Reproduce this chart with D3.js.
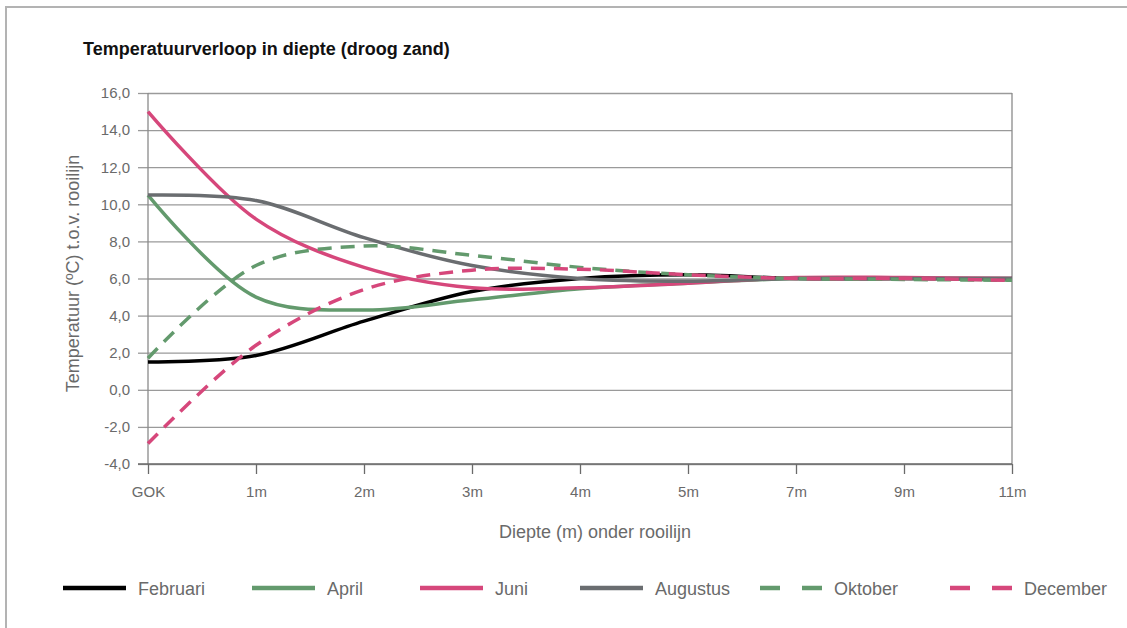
<!DOCTYPE html>
<html>
<head>
<meta charset="utf-8">
<script src="https://cdn.jsdelivr.net/npm/d3@7"></script>
<style>
  body { margin: 0; background: #fff; }
  svg { display: block; font-family: "Liberation Sans Narrow", "Arial Narrow", "Liberation Sans", sans-serif; }
</style>
</head>
<body>
<svg id="chart" width="1127" height="628"></svg>
<script>
// categories along the x axis
const depths = ["GOK", "1m", "2m", "3m", "4m", "5m", "7m", "9m", "11m"];
const yTicks = [-4, -2, 0, 2, 4, 6, 8, 10, 12, 14, 16];

// temperature per month
const februari  = [1.5, 1.85, 3.7, 5.3, 6.0, 6.2, 6.0, 6.0, 6.0];
const april     = [10.5, 5.0, 4.3, 4.85, 5.45, 5.75, 6.0, 6.0, 5.9];
const juni      = [15.0, 9.2, 6.6, 5.5, 5.5, 5.75, 6.05, 6.05, 6.0];
const augustus  = [10.5, 10.2, 8.2, 6.7, 6.0, 5.85, 6.0, 6.0, 6.0];
const oktober   = [1.7, 6.7, 7.75, 7.25, 6.6, 6.2, 6.0, 5.95, 5.9];
const december  = [-2.9, 2.4, 5.4, 6.45, 6.5, 6.2, 6.0, 6.0, 5.9];

const series = [
  { name: "Februari",  values: februari, color: "#000000", dashed: false },
  { name: "April",     values: april,    color: "#639a6d", dashed: false },
  { name: "Juni",      values: juni,     color: "#d6477b", dashed: false },
  { name: "Augustus",  values: augustus, color: "#6a6d70", dashed: false },
  { name: "Oktober",   values: oktober,  color: "#639a6d", dashed: true },
  { name: "December",  values: december, color: "#d6477b", dashed: true },
];

function drawChart() {
  const svg = d3.select("#chart");
  const left = 148, right = 1012, top = 93, bottom = 464;

  // outer frame (only top and left show)
  svg.append("path")
    .attr("d", "M6,640 L6,7 L1140,7")
    .attr("fill", "none")
    .attr("stroke", "#b3b3b3")
    .attr("stroke-width", 2);

  svg.append("text")
    .attr("x", 83).attr("y", 55)
    .attr("font-size", 18).attr("font-weight", "bold")
    .attr("fill", "#111")
    .text("Temperatuurverloop in diepte (droog zand)");

  const x = d3.scalePoint().domain(depths).range([left, right]);
  const y = d3.scaleLinear().domain([-4, 16]).range([bottom, top]);

  // horizontal gridlines + y axis
  const yAxis = d3.axisLeft(y)
    .tickValues(yTicks)
    .tickSize(10)
    .tickFormat(d => d.toFixed(1).replace(".", ","));
  const gy = svg.append("g").attr("transform", `translate(${left},0)`).call(yAxis);
  gy.select(".domain").remove();
  gy.selectAll(".tick line").attr("stroke", "#9a9a9a").attr("stroke-width", 1.3);
  gy.selectAll(".tick text").attr("x", -18).attr("font-size", 15).attr("fill", "#6a6a6a").attr("font-family", null);
  gy.selectAll(".tick").append("line")
    .attr("x1", 0).attr("x2", right - left)
    .attr("stroke", "#9a9a9a").attr("stroke-width", 1.3);

  // vertical frame lines of the plot
  svg.append("line").attr("x1", left).attr("x2", left).attr("y1", top).attr("y2", bottom)
    .attr("stroke", "#8a8a8a").attr("stroke-width", 1.3);
  svg.append("line").attr("x1", right).attr("x2", right).attr("y1", top).attr("y2", bottom)
    .attr("stroke", "#8a8a8a").attr("stroke-width", 1.3);

  // x axis
  const gx = svg.append("g").attr("transform", `translate(0,${bottom})`)
    .call(d3.axisBottom(x).tickSize(10).tickPadding(12));
  gx.select(".domain").attr("d", `M${left - 10},0H${right}`).attr("stroke", "#6a6a6a").attr("stroke-width", 1.3);
  gx.selectAll(".tick line").attr("stroke", "#6a6a6a").attr("stroke-width", 1.3);
  gx.selectAll(".tick text").attr("font-size", 15).attr("fill", "#6a6a6a").attr("font-family", null);

  // axis titles
  svg.append("text")
    .attr("x", (left + right) / 2 + 15).attr("y", 538)
    .attr("text-anchor", "middle")
    .attr("font-size", 18).attr("fill", "#6a6a6a")
    .text("Diepte (m) onder rooilijn");
  svg.append("text")
    .attr("transform", `translate(79,${(top + bottom) / 2 - 5}) rotate(-90)`)
    .attr("text-anchor", "middle")
    .attr("font-size", 18).attr("fill", "#6a6a6a")
    .text("Temperatuur (ºC) t.o.v. rooilijn");

  // lines
  const line = d3.line()
    .x((d, i) => x(depths[i]))
    .y(d => y(d))
    .curve(d3.curveCatmullRom.alpha(0.5));

  svg.append("g").selectAll("path")
    .data(series)
    .enter()
    .append("path")
    .attr("d", s => line(s.values))
    .attr("fill", "none")
    .attr("stroke", s => s.color)
    .attr("stroke-width", 3.5)
    .attr("stroke-dasharray", s => s.dashed ? "14,9" : null);

  // legend
  const legendX = [63, 252, 420, 580, 760, 950];
  const legend = svg.append("g").selectAll("g")
    .data(series)
    .enter()
    .append("g")
    .attr("transform", (s, i) => `translate(${legendX[i]},588)`);
  legend.append("line")
    .attr("x1", 0).attr("x2", 63)
    .attr("stroke", s => s.color)
    .attr("stroke-width", 4.5)
    .attr("stroke-dasharray", s => s.dashed ? "20,22" : null);
  legend.append("text")
    .attr("x", s => s.dashed ? 74 : 75)
    .attr("y", 7)
    .attr("font-size", 18).attr("fill", "#6a6a6a")
    .text(s => s.name);
}

window.addEventListener("DOMContentLoaded", drawChart);
</script>
</body>
</html>
